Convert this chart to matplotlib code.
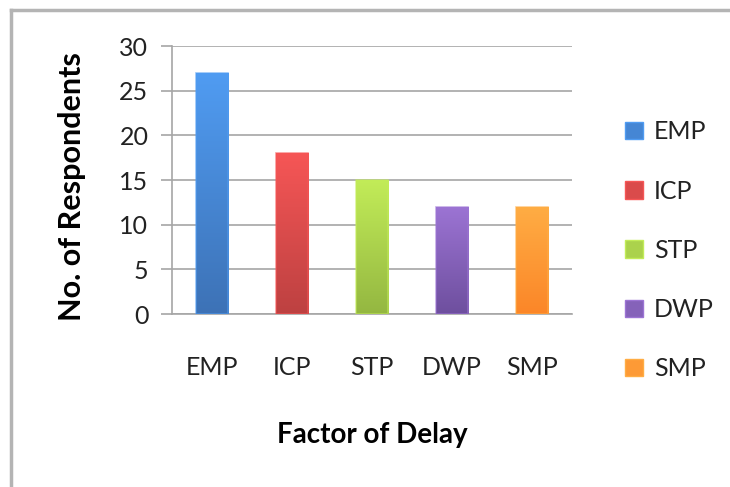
import matplotlib
matplotlib.use("Agg")
import matplotlib.pyplot as plt
import numpy as np
from matplotlib.colors import LinearSegmentedColormap
from matplotlib.patches import Patch, Rectangle

factors = ["EMP", "ICP", "STP", "DWP", "SMP"]
respondents = [27, 18, 15, 12, 12]
# (top colour, bottom colour) for each bar's gradient
top_colors = ["#509cf2", "#f65656", "#c2ec58", "#9c74d4", "#ffad44"]
bottom_colors = ["#3d72b6", "#bd4141", "#94b741", "#6e4f9e", "#fb8628"]
legend_colors = ["#4586d4", "#da4b4b", "#abd24c", "#8562b9", "#fd9a36"]

plt.rcParams["font.family"] = ["Lato", "DejaVu Sans"]

fig = plt.figure(figsize=(7.3, 4.87), dpi=100)
ax = fig.add_axes([0.2356, 0.3552, 0.548, 0.5503])

x = np.arange(len(factors))
bars = ax.bar(x, respondents, width=0.41, color="none", edgecolor="none", zorder=3)

# paint a vertical gradient into every bar
grad = np.linspace(0, 1, 256).reshape(-1, 1)
for bar, c_top, c_bot in zip(bars, top_colors, bottom_colors):
    bx, by = bar.get_x(), bar.get_y()
    bw, bh = bar.get_width(), bar.get_height()
    cmap = LinearSegmentedColormap.from_list("g", [c_bot, c_top])
    im = ax.imshow(grad, cmap=cmap, aspect="auto", origin="lower",
                   extent=[bx, bx + bw, by, by + bh], zorder=3)
    im.set_clip_path(bar)
    ax.add_patch(Rectangle((bx, by), bw, bh, fill=False, edgecolor=c_top,
                           linewidth=1.2, alpha=0.6, zorder=4))

ax.set_xlim(-0.5, len(factors) - 0.5)
ax.set_ylim(0, 30)
ax.set_yticks(np.arange(0, 31, 5))
ax.set_xticks(x)
ax.set_xticklabels(factors)

ax.grid(axis="y", color="#a6a6a6", linewidth=1.2, zorder=0)
ax.set_axisbelow(True)
for s in ["top", "right"]:
    ax.spines[s].set_visible(False)
ax.spines["left"].set_color("#a6a6a6")
ax.spines["bottom"].set_color("#a6a6a6")
ax.spines["left"].set_linewidth(1.2)
ax.spines["bottom"].set_linewidth(1.2)
ax.tick_params(axis="y", length=8, width=1.2, color="#a6a6a6", labelsize=18,
               pad=9, labelcolor="#222222")
ax.tick_params(axis="x", length=0, labelsize=18, pad=30, labelcolor="#222222")

ax.set_ylabel("No. of Respondents", fontsize=22, fontweight="bold",
              va="center")
ax.yaxis.set_label_coords(-0.25, 0.474)
ax.set_xlabel("Factor of Delay", fontsize=20, fontweight="bold", labelpad=31)

handles = [Patch(facecolor=c, edgecolor=t) for c, t in zip(legend_colors, top_colors)]
ax.legend(handles, factors, loc="center left", bbox_to_anchor=(0.826, 0.486),
          bbox_transform=fig.transFigure, frameon=False, fontsize=18,
          handlelength=0.7, handleheight=0.7, handletextpad=0.45,
          labelspacing=1.45, labelcolor="#222222")

# grey frame along top and left edge of the picture
fig.add_artist(plt.Line2D([0.0151, 0.0151], [0, 0.98], transform=fig.transFigure,
                          color="#b4b4b4", linewidth=2.5))
fig.add_artist(plt.Line2D([0.0151, 1.0], [0.98, 0.98], transform=fig.transFigure,
                          color="#b4b4b4", linewidth=2.5))

fig.savefig("out.png", dpi=100)
